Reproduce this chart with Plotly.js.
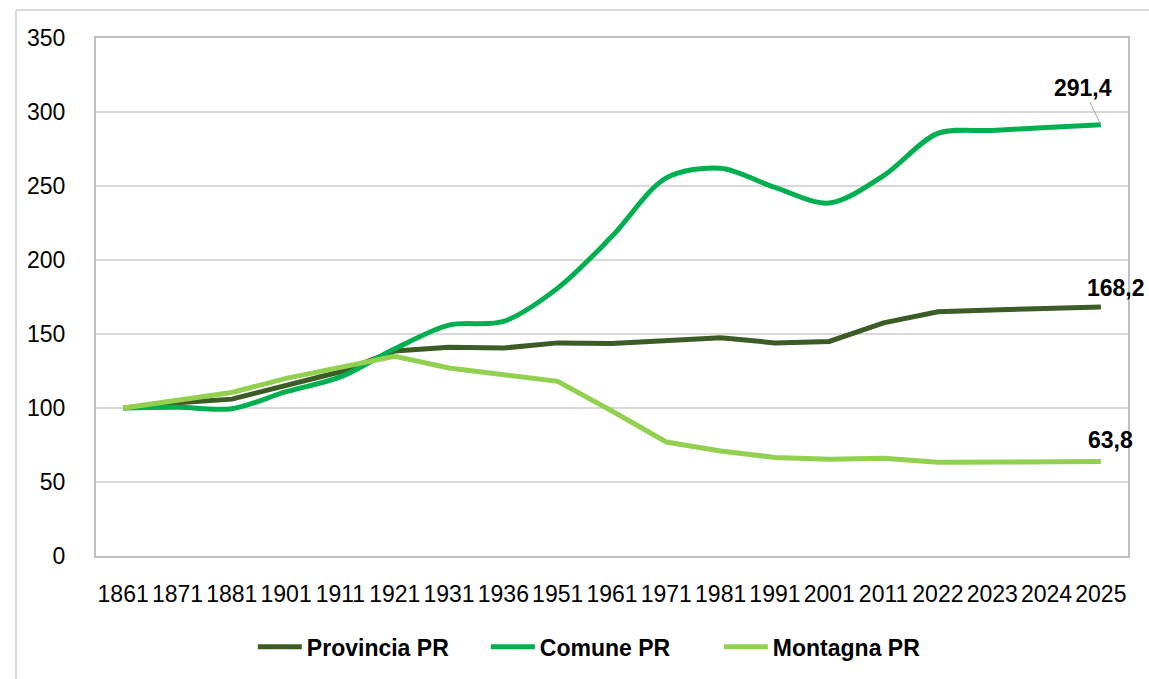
<!DOCTYPE html>
<html>
<head>
<meta charset="utf-8">
<script src="https://cdn.plot.ly/plotly-3.0.1.min.js"></script>
<style>
  html, body { margin: 0; padding: 0; background: #ffffff; }
  #chart { width: 1149px; height: 679px; }
</style>
</head>
<body>
<div id="chart"></div>
<script>
const years = ["1861","1871","1881","1901","1911","1921","1931","1936","1951","1961","1971","1981","1991","2001","2011","2022","2023","2024","2025"];
const provincia = [100,103.5,106,115,124.5,138.5,141,140.5,144,143.5,145.5,147.5,144,145,157.5,165,166.3,167.2,168.2];
const comune    = [100,100.5,99.5,111,121,140,156,158.5,181,216,255.5,262,249,238.5,257,285.5,287.5,289.5,291.4];
const montagna  = [100,105.5,110.5,120,127.5,135,127,122.5,118,98,77,71,66.6,65.3,66,63.4,63.8,63.8,63.8];
const seriesNames = ["Provincia PR","Comune PR","Montagna PR"];
const lastLabels = ["168,2","291,4","63,8"];
const yTicks = [0,50,100,150,200,250,300,350];

const traces = [
  {x: years, y: provincia, name: seriesNames[0], type: "scatter", mode: "lines",
   line: {color: "#3D5B24", width: 5}},
  {x: years, y: comune, name: seriesNames[1], type: "scatter", mode: "lines",
   line: {color: "#00B050", width: 5, shape: "spline", smoothing: 0.9}},
  {x: years, y: montagna, name: seriesNames[2], type: "scatter", mode: "lines",
   line: {color: "#92D050", width: 5}}
];

const last = years.length - 1;
const annFont = {family: "Liberation Sans, Arial, sans-serif", size: 23, color: "#000000"};
const annotations = [
  {x: last, y: comune[last], xref: "x", yref: "y", text: "<b>" + lastLabels[1] + "</b>",
   showarrow: true, arrowhead: 0, arrowwidth: 1, arrowcolor: "#a6a6a6", ax: -18, ay: -37,
   font: annFont},
  {x: last, y: provincia[last], xref: "x", yref: "y", text: "<b>" + lastLabels[0] + "</b>",
   showarrow: false, xshift: 15, yshift: 19, font: annFont},
  {x: last, y: montagna[last], xref: "x", yref: "y", text: "<b>" + lastLabels[2] + "</b>",
   showarrow: false, xshift: 10, yshift: 22, font: annFont}
];

const tickFont = {family: "Liberation Sans, Arial, sans-serif", size: 23, color: "#000000"};

const layout = {
  width: 1149, height: 679,
  margin: {l: 96, r: 21, t: 38, b: 122, pad: 0},
  paper_bgcolor: "#ffffff", plot_bgcolor: "#ffffff",
  showlegend: true,
  legend: {orientation: "h", x: 0.152, xanchor: "left", y: -0.173, yanchor: "middle",
           font: {family: "Liberation Sans, Arial, sans-serif", size: 23, color: "#000000", weight: "bold"},
           itemwidth: 44, entrywidth: 174, entrywidthmode: "pixels", traceorder: "normal"},
  xaxis: {type: "category", range: [-0.5, years.length - 0.5], tickangle: 0,
          showgrid: false, showline: true, mirror: true, linecolor: "#bfbfbf", linewidth: 2,
          ticks: "", tickfont: tickFont, ticklabelstandoff: 16, automargin: false, fixedrange: true},
  yaxis: {range: [0, 350], tickvals: yTicks, ticktext: yTicks.map(String),
          showgrid: true, gridcolor: "#d9d9d9", gridwidth: 2,
          showline: true, mirror: true, linecolor: "#bfbfbf", linewidth: 2,
          zeroline: false, ticks: "", tickfont: tickFont, ticklabelstandoff: 24, automargin: false, fixedrange: true},
  annotations: annotations,
  shapes: [
    {type: "line", xref: "paper", yref: "paper", x0: -0.0775, x1: 1.03, y0: 1.054, y1: 1.054,
     line: {color: "#d9d9d9", width: 2}},
    {type: "line", xref: "paper", yref: "paper", x0: -0.0775, x1: -0.0775, y0: 1.054, y1: -0.24,
     line: {color: "#d9d9d9", width: 2}}
  ]
};

Plotly.newPlot("chart", traces, layout, {displayModeBar: false});
</script>
</body>
</html>
